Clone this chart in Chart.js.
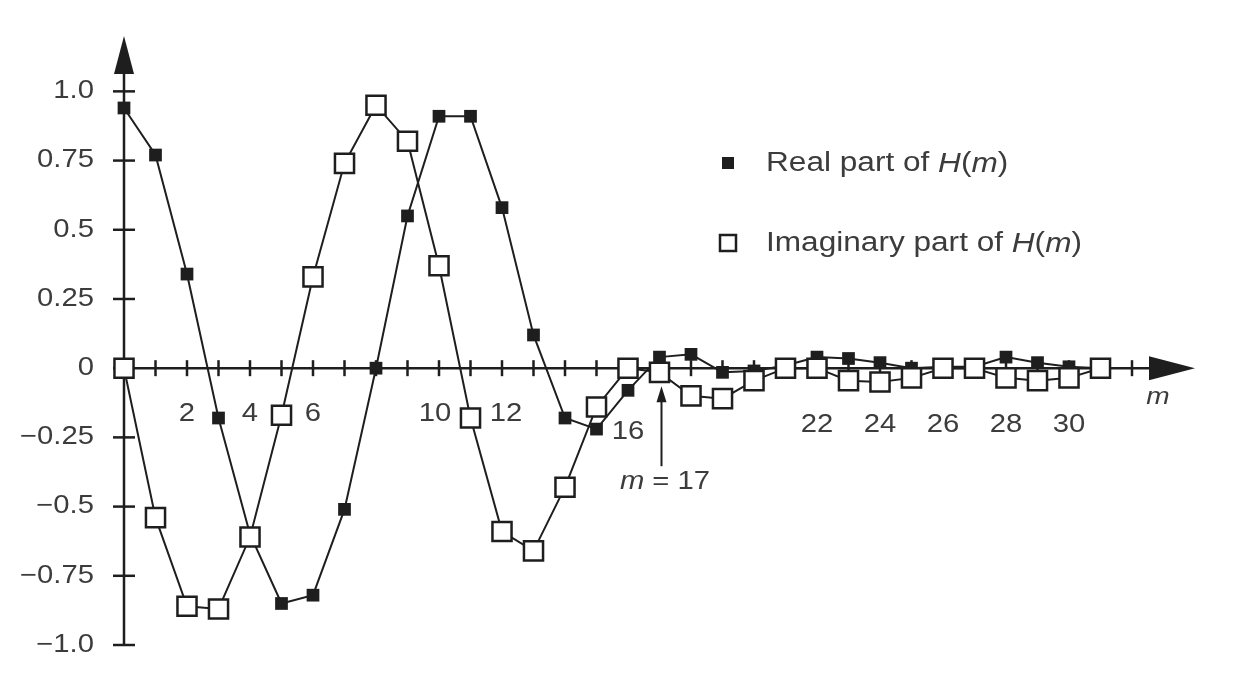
<!DOCTYPE html>
<html>
<head>
<meta charset="utf-8">
<script src="https://cdn.jsdelivr.net/npm/chart.js@4.4.1/dist/chart.umd.min.js"></script>
<style>
  html, body { margin: 0; padding: 0; background: #fff; }
  canvas { display: block; }
</style>
</head>
<body>
<canvas id="chart" width="1236" height="682"></canvas>
<script>
// Sample index m and the two parts of H(m)
const mValues = [0, 1, 2, 3, 4, 5, 6, 7, 8, 9, 10, 11, 12, 13, 14, 15,
  16, 17, 18, 19, 20, 21, 22, 23, 24, 25, 26, 27, 28, 29, 30, 31];
const realPart = [0.94, 0.77, 0.34, -0.18, -0.60, -0.85, -0.82, -0.51, 0.0, 0.55,
  0.91, 0.91, 0.58, 0.12, -0.18, -0.22, -0.08, 0.04, 0.05, -0.015,
  -0.01, 0.01, 0.04, 0.035, 0.02, 0.0, 0.005, 0.005, 0.04, 0.02, 0.005, 0.0];
const imagPart = [0.0, -0.54, -0.86, -0.87, -0.61, -0.17, 0.33, 0.74, 0.95, 0.82,
  0.37, -0.18, -0.59, -0.66, -0.43, -0.14, 0.0, -0.015, -0.10, -0.11,
  -0.045, 0.0, 0.0, -0.045, -0.05, -0.035, 0.0, 0.0, -0.035, -0.045, -0.035, 0.0];

// Axis labels
const yTicks = [1.0, 0.75, 0.5, 0.25, 0, -0.25, -0.5, -0.75, -1.0];
const yTickLabels = ["1.0", "0.75", "0.5", "0.25", "0", "\u22120.25", "\u22120.5", "\u22120.75", "\u22121.0"];
const xTickLabels = ["2", "4", "6", "10", "12", "16", "22", "24", "26", "28", "30"];

const ink = "#1e1e1e";
const textColor = "#3c3c3c";
const stretch = 1.17; // the lettering in the original is a bit wide
const font = (size, italic) => (italic ? "italic " : "") + size + "px 'Liberation Sans', Arial, sans-serif";

// draws text pieces in a row, some italic; align: 0 left, 0.5 centre, 1 right
function richText(ctx, parts, x, y, size, align) {
  let total = 0;
  parts.forEach(p => {
    ctx.font = font(size, p[1]);
    total += ctx.measureText(p[0]).width;
  });
  ctx.save();
  ctx.translate(x - (align || 0) * total * stretch, y);
  ctx.scale(stretch, 1);
  ctx.textAlign = "left";
  ctx.textBaseline = "middle";
  let cx = 0;
  parts.forEach(p => {
    ctx.font = font(size, p[1]);
    ctx.fillText(p[0], cx, 0);
    cx += ctx.measureText(p[0]).width;
  });
  ctx.restore();
}

const axesPlugin = {
  id: "axes",
  beforeDatasetsDraw(chart) {
    const ctx = chart.ctx;
    const xs = chart.scales.x, ys = chart.scales.y;
    const x0 = xs.getPixelForValue(0), y0 = ys.getPixelForValue(0);
    const top = chart.chartArea.top, right = chart.chartArea.right;
    ctx.save();
    ctx.strokeStyle = ink;
    ctx.fillStyle = ink;
    ctx.lineWidth = 2.5;

    // y axis with arrow
    ctx.beginPath();
    ctx.moveTo(x0, ys.getPixelForValue(-1.0));
    ctx.lineTo(x0, top + 30);
    ctx.stroke();
    ctx.beginPath();
    ctx.moveTo(x0, top);
    ctx.lineTo(x0 - 10, top + 38);
    ctx.lineTo(x0 + 10, top + 38);
    ctx.closePath();
    ctx.fill();

    // x axis with arrow
    ctx.beginPath();
    ctx.moveTo(x0, y0);
    ctx.lineTo(right - 30, y0);
    ctx.stroke();
    ctx.beginPath();
    ctx.moveTo(right, y0);
    ctx.lineTo(right - 46, y0 - 12);
    ctx.lineTo(right - 46, y0 + 12);
    ctx.closePath();
    ctx.fill();

    // tick marks
    yTicks.forEach(v => {
      const py = ys.getPixelForValue(v);
      ctx.beginPath();
      ctx.moveTo(x0 - 11, py);
      ctx.lineTo(x0 + 11, py);
      ctx.stroke();
    });
    for (let m = 1; m <= 32; m++) {
      const px = xs.getPixelForValue(m);
      ctx.beginPath();
      ctx.moveTo(px, y0 - 8);
      ctx.lineTo(px, y0 + 8);
      ctx.stroke();
    }

    // y tick labels
    ctx.fillStyle = textColor;
    yTicks.forEach((v, i) => {
      richText(ctx, [[yTickLabels[i], false]], 94, ys.getPixelForValue(v), 25, 1);
    });
    ctx.restore();
  },
  afterDraw(chart) {
    const ctx = chart.ctx;
    const xs = chart.scales.x, ys = chart.scales.y;
    const y0 = ys.getPixelForValue(0);
    ctx.save();
    ctx.fillStyle = textColor;
    xTickLabels.forEach(t => {
      const v = Number(t);
      let dy = 46;
      if (v === 16) dy = 64;
      else if (v > 16) dy = 57;
      let dx = 0;
      if (v === 10) dx = -4;
      if (v === 12) dx = 4;
      richText(ctx, [[t, false]], xs.getPixelForValue(v) + dx, y0 + dy, 25, 0.5);
    });

    // axis name
    richText(ctx, [["m", true]], 1158, y0 + 29, 24, 0.5);

    // m = 17 annotation
    const ax = xs.getPixelForValue(17) + 2;
    ctx.strokeStyle = ink;
    ctx.fillStyle = ink;
    ctx.lineWidth = 2;
    ctx.beginPath();
    ctx.moveTo(ax, y0 + 98);
    ctx.lineTo(ax, y0 + 30);
    ctx.stroke();
    ctx.beginPath();
    ctx.moveTo(ax, y0 + 18);
    ctx.lineTo(ax - 5, y0 + 34);
    ctx.lineTo(ax + 5, y0 + 34);
    ctx.closePath();
    ctx.fill();
    ctx.fillStyle = textColor;
    richText(ctx, [["m", true], [" = 17", false]], 665, y0 + 114, 25, 0.5);

    // legend
    ctx.fillStyle = ink;
    ctx.fillRect(722, 157, 12, 12);
    ctx.strokeStyle = ink;
    ctx.lineWidth = 2.5;
    ctx.fillStyle = "#fff";
    ctx.fillRect(720, 235, 16, 16);
    ctx.strokeRect(720, 235, 16, 16);
    ctx.fillStyle = textColor;
    richText(ctx, [["Real part of ", false], ["H", true], ["(", false], ["m", true], [")", false]], 766, 164, 27);
    richText(ctx, [["Imaginary part of ", false], ["H", true], ["(", false], ["m", true], [")", false]], 766, 244, 27);
    ctx.restore();
  }
};

new Chart(document.getElementById("chart").getContext("2d"), {
  type: "scatter",
  data: {
    datasets: [
      {
        label: "Real part of H(m)",
        data: mValues.map((m, i) => ({ x: m, y: realPart[i] })),
        showLine: true,
        clip: false,
        borderColor: ink,
        borderWidth: 2,
        backgroundColor: ink,
        pointStyle: "rect",
        pointRadius: 9,
        pointBorderWidth: 0,
        order: 1
      },
      {
        label: "Imaginary part of H(m)",
        data: mValues.map((m, i) => ({ x: m, y: imagPart[i] })),
        showLine: true,
        clip: false,
        borderColor: ink,
        borderWidth: 2,
        backgroundColor: "#fff",
        pointStyle: "rect",
        pointRadius: 13.5,
        pointBorderWidth: 2.5,
        pointBorderColor: ink,
        order: 0
      }
    ]
  },
  options: {
    responsive: false,
    animation: false,
    devicePixelRatio: 1,
    layout: { padding: { left: 124, right: 41, top: 36, bottom: 37 } },
    scales: {
      x: { type: "linear", min: 0, max: 34, display: false },
      y: { type: "linear", min: -1.0, max: 1.2, display: false }
    },
    plugins: {
      legend: { display: false },
      tooltip: { enabled: false }
    }
  },
  plugins: [axesPlugin]
});
</script>
</body>
</html>
